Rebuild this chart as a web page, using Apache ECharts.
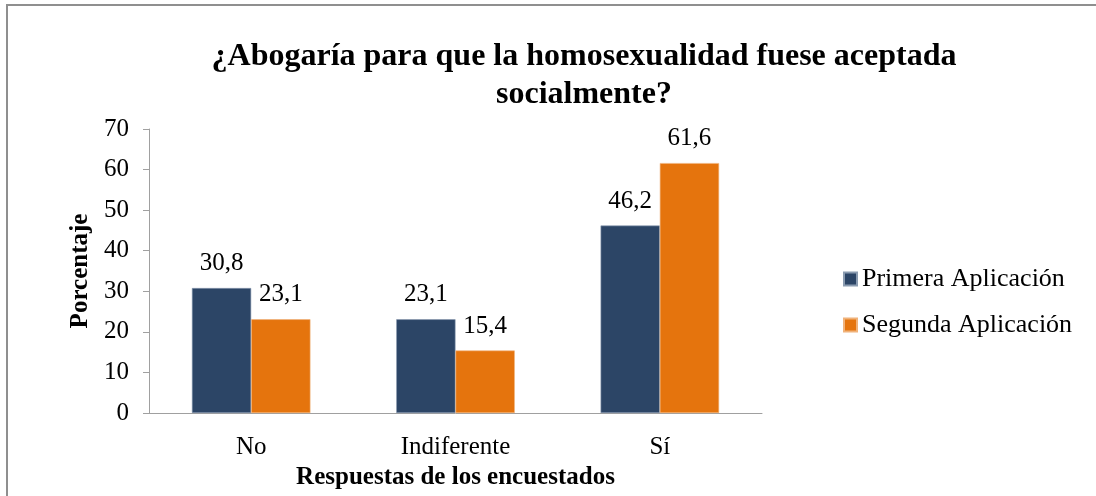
<!DOCTYPE html>
<html>
<head>
<meta charset="utf-8">
<script src="https://cdn.jsdelivr.net/npm/echarts@6/dist/echarts.min.js"></script>
<style>
    html, body { margin: 0; padding: 0; background: #fff; }
    #chart { width: 1096px; height: 496px; }
</style>
</head>
<body>
<div id="chart"></div>
<script>
    // datos del gráfico
    var categorias = ['No', 'Indiferente', 'Sí'];
    var primera = [30.8, 23.1, 46.2];
    var segunda = [23.1, 15.4, 61.6];
    var serieNombres = ['Primera Aplicación', 'Segunda Aplicación'];

    var fuente = '"Liberation Serif", "Times New Roman", serif';

    var myChart = echarts.init(document.getElementById('chart'));

    function etiqueta(v) {
        return String(v.value).replace('.', ',');
    }

    var option = {
        backgroundColor: '#fff',
        animation: false,
        title: {
            text: '¿Abogaría para que la homosexualidad fuese aceptada\nsocialmente?',
            left: 579,
            top: 33,
            textAlign: 'center',
            textStyle: {
                fontFamily: fuente,
                fontWeight: 'bold',
                fontSize: 32,
                lineHeight: 38,
                color: '#000'
            }
        },
        legend: {
            orient: 'vertical',
            left: 843,
            top: 266,
            padding: 0,
            itemWidth: 13,
            itemHeight: 13,
            itemGap: 20,
            icon: 'rect',
            data: serieNombres,
            textStyle: {
                fontFamily: fuente,
                fontSize: 26,
                color: '#000'
            }
        },
        graphic: [{
            type: 'rect',
            shape: { x: 7, y: 5, width: 1300, height: 700 },
            style: { fill: 'none', stroke: '#8f8f8f', lineWidth: 2 },
            silent: true
        }],
        grid: {
            left: 149,
            right: 334,
            top: 129,
            bottom: 83,
            containLabel: false
        },
        xAxis: {
            type: 'category',
            data: categorias,
            name: 'Respuestas de los encuestados',
            nameLocation: 'middle',
            nameGap: 48,
            nameTextStyle: {
                fontFamily: fuente,
                fontWeight: 'bold',
                fontSize: 25,
                color: '#000'
            },
            axisLine: { lineStyle: { color: '#a0a0a0', width: 1 } },
            axisTick: { show: false },
            axisLabel: {
                margin: 22,
                fontFamily: fuente,
                fontSize: 25,
                color: '#000'
            }
        },
        yAxis: {
            type: 'value',
            min: 0,
            max: 70,
            interval: 10,
            name: 'Porcentaje',
            nameLocation: 'middle',
            nameGap: 56,
            nameTextStyle: {
                fontFamily: fuente,
                fontWeight: 'bold',
                fontSize: 25,
                color: '#000'
            },
            axisLine: { show: true, lineStyle: { color: '#a0a0a0', width: 1 } },
            axisTick: { show: true, length: 6, lineStyle: { color: '#a0a0a0' } },
            splitLine: { show: false },
            axisLabel: {
                margin: 20,
                fontFamily: fuente,
                fontSize: 25,
                color: '#000'
            }
        },
        series: [
            {
                name: serieNombres[0],
                type: 'bar',
                data: primera,
                barGap: '0%',
                barCategoryGap: '42%',
                itemStyle: { color: '#2c4566', borderColor: '#8a9bb0', borderWidth: 0.6 },
                label: {
                    show: true,
                    position: 'top',
                    distance: 12,
                    formatter: etiqueta,
                    fontFamily: fuente,
                    fontSize: 25,
                    color: '#000'
                }
            },
            {
                name: serieNombres[1],
                type: 'bar',
                data: segunda,
                itemStyle: { color: '#e5740d', borderColor: '#f0b27a', borderWidth: 0.6 },
                label: {
                    show: true,
                    position: 'top',
                    distance: 12,
                    formatter: etiqueta,
                    fontFamily: fuente,
                    fontSize: 25,
                    color: '#000'
                }
            }
        ]
    };

    myChart.setOption(option);
</script>
</body>
</html>
